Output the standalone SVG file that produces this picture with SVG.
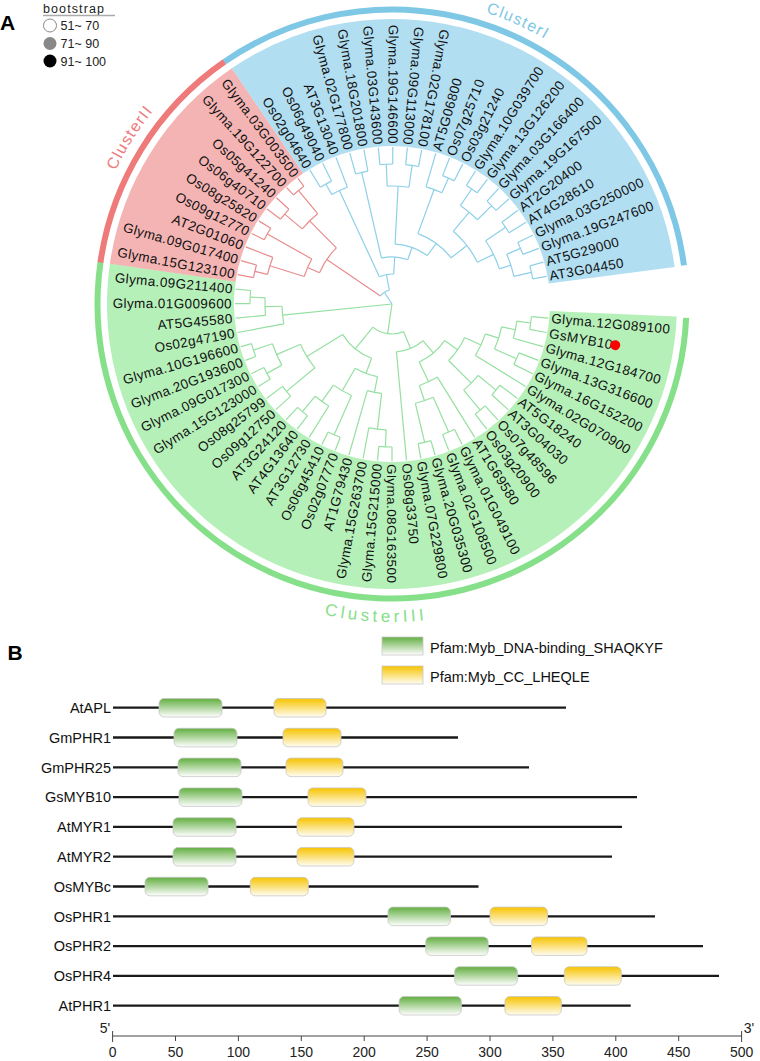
<svg xmlns="http://www.w3.org/2000/svg" width="760" height="1061" viewBox="0 0 760 1061">
<defs>
<linearGradient id="gG" x1="0" y1="0" x2="0" y2="1"><stop offset="0" stop-color="#62ae40"/><stop offset="1" stop-color="#ffffff"/></linearGradient>
<linearGradient id="gY" x1="0" y1="0" x2="0" y2="1"><stop offset="0" stop-color="#f7c300"/><stop offset="1" stop-color="#fffdf2"/></linearGradient>
<path id="pI" d="M 84.35 -294.2 A 306 306 0 0 1 204.8 -227.4"/>
<path id="pII" d="M -288.5 -105 A 307 307 0 0 1 -153.5 -265.9"/>
<path id="pIII" d="M -98.27 302.4 A 318 318 0 0 0 98.27 302.4"/>
</defs>
<style>
text{font-family:"Liberation Sans",Arial,Helvetica,sans-serif}
.lb{font-size:13.5px;letter-spacing:0.4px;fill:#111}
.f{text-anchor:end}
.tr line,.tr circle{fill:none;stroke-width:1.2}
.g line,.g circle{stroke:#95e0a0}
.r line,.r circle{stroke:#e88c8c}
.b line,.b circle{stroke:#8dd0e8}
.cl{font-size:16px;letter-spacing:1.3px}
.pn{font-size:14.5px;fill:#111;text-anchor:end}
.pl{stroke:#1a1a1a;stroke-width:2.3}
.dg{fill:url(#gG);stroke:#c8c8c8;stroke-width:0.8}
.dy{fill:url(#gY);stroke:#c8c8c8;stroke-width:0.8}
.tk{font-size:14px;fill:#222;text-anchor:middle}
.lg{font-size:12.5px;fill:#222}
</style>

<g id="panelA-legend">
<text x="0" y="30" font-size="21" font-weight="bold" fill="#000">A</text>
<text x="43" y="12.5" font-size="12.5" letter-spacing="1.1" fill="#222">bootstrap</text>
<line x1="43" y1="15.5" x2="115" y2="15.5" stroke="#aaa" stroke-width="1.5"/>
<circle cx="50" cy="25.5" r="6.5" fill="#fff" stroke="#888" stroke-width="1"/>
<circle cx="50" cy="43.5" r="6.5" fill="#888"/>
<circle cx="50" cy="61" r="6.5" fill="#000"/>
<text class="lg" x="60.5" y="30.2">51~ 70</text>
<text class="lg" x="60.5" y="48">71~ 90</text>
<text class="lg" x="60.5" y="65.8">91~ 100</text>
</g>

<g id="tree" transform="translate(392 304)">
<g id="fills" fill="none">
<circle r="221.5" stroke="#b6f0b9" stroke-width="127" transform="rotate(2.5)" stroke-dasharray="717.5 3000"/>
<circle r="221.5" stroke="#f4b4b4" stroke-width="127" transform="rotate(188.1)" stroke-dasharray="184.4 3000"/>
<circle r="221.5" stroke="#b2def1" stroke-width="127" transform="rotate(235.8)" stroke-dasharray="451.2 3000"/>
</g>
<g id="cluster-arcs" fill="none" stroke-width="6">
<circle r="294.5" stroke="#7ec8e6" transform="rotate(235.3)" stroke-dasharray="601.9 3000"/>
<circle r="294.5" stroke="#86e08a" transform="rotate(2.7)" stroke-dasharray="953 3000"/>
<circle r="294.5" stroke="#ee7a7a" transform="rotate(188.1)" stroke-dasharray="242.6 3000"/>
</g>
<g id="cluster-labels" class="cl">
<text fill="#7ec8e6" text-anchor="middle"><textPath href="#pI" startOffset="42.7">ClusterI</textPath></text>
<text fill="#ee7a7a" text-anchor="middle"><textPath href="#pII" startOffset="66.4">ClusterII</textPath></text>
<text fill="#86e08a" text-anchor="middle" font-size="17" letter-spacing="3.6"><textPath href="#pIII" startOffset="83.8">ClusterIII</textPath></text>
</g>

<g id="connectors" class="tr">
<g class="g">
<line x1="140" x2="157" transform="rotate(5.15)"/>
<line x1="140" x2="157" transform="rotate(10.45)"/>
<line x1="126" x2="157" transform="rotate(15.76)"/>
<line x1="136" x2="157" transform="rotate(21.06)"/>
<line x1="136" x2="157" transform="rotate(26.36)"/>
<line x1="98" x2="157" transform="rotate(31.67)"/>
<line x1="135" x2="157" transform="rotate(36.97)"/>
<line x1="135" x2="157" transform="rotate(42.27)"/>
<line x1="138" x2="157" transform="rotate(47.58)"/>
<line x1="138" x2="157" transform="rotate(52.88)"/>
<line x1="86" x2="157" transform="rotate(58.18)"/>
<line x1="140" x2="157" transform="rotate(63.48)"/>
<line x1="140" x2="157" transform="rotate(68.79)"/>
<line x1="142" x2="157" transform="rotate(74.09)"/>
<line x1="142" x2="157" transform="rotate(79.39)"/>
<line x1="48" x2="157" transform="rotate(84.7)"/>
<line x1="143" x2="157" transform="rotate(90)"/>
<line x1="143" x2="157" transform="rotate(95.3)"/>
<line x1="126" x2="157" transform="rotate(100.61)"/>
<line x1="90" x2="157" transform="rotate(105.91)"/>
<line x1="143" x2="157" transform="rotate(111.21)"/>
<line x1="143" x2="157" transform="rotate(116.52)"/>
<line x1="120" x2="157" transform="rotate(121.82)"/>
<line x1="140" x2="157" transform="rotate(127.12)"/>
<line x1="140" x2="157" transform="rotate(132.42)"/>
<line x1="137" x2="157" transform="rotate(137.73)"/>
<line x1="137" x2="157" transform="rotate(143.03)"/>
<line x1="143" x2="157" transform="rotate(148.33)"/>
<line x1="143" x2="157" transform="rotate(153.64)"/>
<line x1="146" x2="157" transform="rotate(158.94)"/>
<line x1="146" x2="157" transform="rotate(164.24)"/>
<line x1="110" x2="157" transform="rotate(169.55)"/>
<line x1="127" x2="157" transform="rotate(174.85)"/>
<line x1="142" x2="157" transform="rotate(180.15)"/>
<line x1="142" x2="157" transform="rotate(185.45)"/>
<line x1="126" x2="140" transform="rotate(7.8)"/>
<line x1="112" x2="126" transform="rotate(11.78)"/>
<line x1="112" x2="136" transform="rotate(23.71)"/>
<line x1="98" x2="112" transform="rotate(17.75)"/>
<line x1="80" x2="98" transform="rotate(24.71)"/>
<line x1="112" x2="135" transform="rotate(39.62)"/>
<line x1="112" x2="138" transform="rotate(50.23)"/>
<line x1="80" x2="112" transform="rotate(44.93)"/>
<line x1="64" x2="80" transform="rotate(34.82)"/>
<line x1="102" x2="140" transform="rotate(66.14)"/>
<line x1="102" x2="142" transform="rotate(76.74)"/>
<line x1="86" x2="102" transform="rotate(71.44)"/>
<line x1="64" x2="86" transform="rotate(64.81)"/>
<line x1="48" x2="64" transform="rotate(49.82)"/>
<line x1="30" x2="48" transform="rotate(67.26)"/>
<line x1="126" x2="143" transform="rotate(92.65)"/>
<line x1="90" x2="126" transform="rotate(96.63)"/>
<line x1="74" x2="90" transform="rotate(101.27)"/>
<line x1="100" x2="143" transform="rotate(113.86)"/>
<line x1="120" x2="140" transform="rotate(129.77)"/>
<line x1="100" x2="120" transform="rotate(125.8)"/>
<line x1="74" x2="100" transform="rotate(119.83)"/>
<line x1="58" x2="74" transform="rotate(110.55)"/>
<line x1="100" x2="137" transform="rotate(140.38)"/>
<line x1="126" x2="143" transform="rotate(150.98)"/>
<line x1="126" x2="146" transform="rotate(161.59)"/>
<line x1="100" x2="126" transform="rotate(156.29)"/>
<line x1="58" x2="100" transform="rotate(148.33)"/>
<line x1="30" x2="58" transform="rotate(129.44)"/>
<line x1="0" x2="30" transform="rotate(98.35)"/>
<line x1="127" x2="142" transform="rotate(182.8)"/>
<line x1="110" x2="127" transform="rotate(178.83)"/>
<line x1="0" x2="110" transform="rotate(174.19)"/>
<circle r="140" transform="rotate(5.15)" stroke-dasharray="12.96 3000"/>
<circle r="126" transform="rotate(7.8)" stroke-dasharray="17.5 3000"/>
<circle r="136" transform="rotate(21.06)" stroke-dasharray="12.58 3000"/>
<circle r="112" transform="rotate(11.78)" stroke-dasharray="23.32 3000"/>
<circle r="98" transform="rotate(17.75)" stroke-dasharray="23.81 3000"/>
<circle r="135" transform="rotate(36.97)" stroke-dasharray="12.49 3000"/>
<circle r="138" transform="rotate(47.58)" stroke-dasharray="12.77 3000"/>
<circle r="112" transform="rotate(39.62)" stroke-dasharray="20.74 3000"/>
<circle r="80" transform="rotate(24.71)" stroke-dasharray="28.23 3000"/>
<circle r="140" transform="rotate(63.48)" stroke-dasharray="12.96 3000"/>
<circle r="142" transform="rotate(74.09)" stroke-dasharray="13.14 3000"/>
<circle r="102" transform="rotate(66.14)" stroke-dasharray="18.87 3000"/>
<circle r="86" transform="rotate(58.18)" stroke-dasharray="19.9 3000"/>
<circle r="64" transform="rotate(34.82)" stroke-dasharray="33.5 3000"/>
<circle r="48" transform="rotate(49.82)" stroke-dasharray="29.22 3000"/>
<circle r="143" transform="rotate(90)" stroke-dasharray="13.24 3000"/>
<circle r="126" transform="rotate(92.65)" stroke-dasharray="17.5 3000"/>
<circle r="90" transform="rotate(96.63)" stroke-dasharray="14.58 3000"/>
<circle r="143" transform="rotate(111.21)" stroke-dasharray="13.24 3000"/>
<circle r="140" transform="rotate(127.12)" stroke-dasharray="12.96 3000"/>
<circle r="120" transform="rotate(121.82)" stroke-dasharray="16.65 3000"/>
<circle r="100" transform="rotate(113.86)" stroke-dasharray="20.84 3000"/>
<circle r="74" transform="rotate(101.27)" stroke-dasharray="23.97 3000"/>
<circle r="137" transform="rotate(137.73)" stroke-dasharray="12.68 3000"/>
<circle r="143" transform="rotate(148.33)" stroke-dasharray="13.24 3000"/>
<circle r="146" transform="rotate(158.94)" stroke-dasharray="13.51 3000"/>
<circle r="126" transform="rotate(150.98)" stroke-dasharray="23.33 3000"/>
<circle r="100" transform="rotate(140.38)" stroke-dasharray="27.77 3000"/>
<circle r="58" transform="rotate(110.55)" stroke-dasharray="38.24 3000"/>
<circle r="30" transform="rotate(67.26)" stroke-dasharray="32.56 3000"/>
<circle r="142" transform="rotate(180.15)" stroke-dasharray="13.14 3000"/>
<circle r="127" transform="rotate(174.85)" stroke-dasharray="17.62 3000"/>
<circle r="110" transform="rotate(169.55)" stroke-dasharray="17.82 3000"/>
</g>
<g class="r">
<line x1="141" x2="157" transform="rotate(190.76)"/>
<line x1="141" x2="157" transform="rotate(196.06)"/>
<line x1="128" x2="157" transform="rotate(201.36)"/>
<line x1="143" x2="157" transform="rotate(206.67)"/>
<line x1="143" x2="157" transform="rotate(211.97)"/>
<line x1="140" x2="157" transform="rotate(217.27)"/>
<line x1="140" x2="157" transform="rotate(222.58)"/>
<line x1="147" x2="157" transform="rotate(227.88)"/>
<line x1="147" x2="157" transform="rotate(233.18)"/>
<line x1="128" x2="141" transform="rotate(193.41)"/>
<line x1="92" x2="128" transform="rotate(197.39)"/>
<line x1="92" x2="143" transform="rotate(209.32)"/>
<line x1="79" x2="92" transform="rotate(203.36)"/>
<line x1="117" x2="140" transform="rotate(219.93)"/>
<line x1="117" x2="147" transform="rotate(230.53)"/>
<line x1="79" x2="117" transform="rotate(225.23)"/>
<line x1="14" x2="79" transform="rotate(214.3)"/>
<circle r="141" transform="rotate(190.76)" stroke-dasharray="13.05 3000"/>
<circle r="128" transform="rotate(193.41)" stroke-dasharray="17.76 3000"/>
<circle r="143" transform="rotate(206.67)" stroke-dasharray="13.24 3000"/>
<circle r="92" transform="rotate(197.39)" stroke-dasharray="19.16 3000"/>
<circle r="140" transform="rotate(217.27)" stroke-dasharray="12.96 3000"/>
<circle r="147" transform="rotate(227.88)" stroke-dasharray="13.61 3000"/>
<circle r="117" transform="rotate(219.93)" stroke-dasharray="21.65 3000"/>
<circle r="79" transform="rotate(203.36)" stroke-dasharray="30.15 3000"/>
</g>
<g class="b">
<line x1="137" x2="157" transform="rotate(238.48)"/>
<line x1="137" x2="157" transform="rotate(243.79)"/>
<line x1="125" x2="157" transform="rotate(249.09)"/>
<line x1="135" x2="157" transform="rotate(254.39)"/>
<line x1="135" x2="157" transform="rotate(259.7)"/>
<line x1="140" x2="157" transform="rotate(265)"/>
<line x1="140" x2="157" transform="rotate(270.3)"/>
<line x1="140" x2="157" transform="rotate(275.61)"/>
<line x1="140" x2="157" transform="rotate(280.91)"/>
<line x1="122" x2="157" transform="rotate(286.21)"/>
<line x1="138" x2="157" transform="rotate(291.52)"/>
<line x1="138" x2="157" transform="rotate(296.82)"/>
<line x1="140" x2="157" transform="rotate(302.12)"/>
<line x1="140" x2="157" transform="rotate(307.42)"/>
<line x1="140" x2="157" transform="rotate(312.73)"/>
<line x1="140" x2="157" transform="rotate(318.03)"/>
<line x1="137" x2="157" transform="rotate(323.33)"/>
<line x1="137" x2="157" transform="rotate(328.64)"/>
<line x1="140" x2="157" transform="rotate(333.94)"/>
<line x1="140" x2="157" transform="rotate(339.24)"/>
<line x1="143" x2="157" transform="rotate(344.55)"/>
<line x1="143" x2="157" transform="rotate(349.85)"/>
<line x1="125" x2="137" transform="rotate(241.14)"/>
<line x1="30" x2="125" transform="rotate(245.12)"/>
<line x1="47" x2="135" transform="rotate(257.05)"/>
<line x1="118" x2="140" transform="rotate(267.65)"/>
<line x1="118" x2="140" transform="rotate(278.26)"/>
<line x1="60" x2="118" transform="rotate(272.96)"/>
<line x1="122" x2="138" transform="rotate(294.17)"/>
<line x1="75" x2="122" transform="rotate(290.19)"/>
<line x1="120" x2="140" transform="rotate(304.77)"/>
<line x1="120" x2="140" transform="rotate(315.38)"/>
<line x1="95" x2="120" transform="rotate(310.08)"/>
<line x1="113" x2="137" transform="rotate(325.98)"/>
<line x1="125" x2="140" transform="rotate(336.59)"/>
<line x1="125" x2="143" transform="rotate(347.2)"/>
<line x1="113" x2="125" transform="rotate(341.9)"/>
<line x1="95" x2="113" transform="rotate(333.94)"/>
<line x1="75" x2="95" transform="rotate(322.01)"/>
<line x1="60" x2="75" transform="rotate(306.1)"/>
<line x1="47" x2="60" transform="rotate(289.53)"/>
<line x1="30" x2="47" transform="rotate(273.29)"/>
<line x1="14" x2="30" transform="rotate(259.2)"/>
<line x1="0" x2="14" transform="rotate(236.75)"/>
<circle r="137" transform="rotate(238.48)" stroke-dasharray="12.68 3000"/>
<circle r="125" transform="rotate(241.14)" stroke-dasharray="17.34 3000"/>
<circle r="135" transform="rotate(254.39)" stroke-dasharray="12.49 3000"/>
<circle r="140" transform="rotate(265)" stroke-dasharray="12.96 3000"/>
<circle r="140" transform="rotate(275.61)" stroke-dasharray="12.96 3000"/>
<circle r="118" transform="rotate(267.65)" stroke-dasharray="21.85 3000"/>
<circle r="138" transform="rotate(291.52)" stroke-dasharray="12.77 3000"/>
<circle r="122" transform="rotate(286.21)" stroke-dasharray="16.95 3000"/>
<circle r="140" transform="rotate(302.12)" stroke-dasharray="12.96 3000"/>
<circle r="140" transform="rotate(312.73)" stroke-dasharray="12.96 3000"/>
<circle r="120" transform="rotate(304.77)" stroke-dasharray="22.22 3000"/>
<circle r="137" transform="rotate(323.33)" stroke-dasharray="12.68 3000"/>
<circle r="140" transform="rotate(333.94)" stroke-dasharray="12.96 3000"/>
<circle r="143" transform="rotate(344.55)" stroke-dasharray="13.24 3000"/>
<circle r="125" transform="rotate(336.59)" stroke-dasharray="23.15 3000"/>
<circle r="113" transform="rotate(325.98)" stroke-dasharray="31.4 3000"/>
<circle r="95" transform="rotate(310.08)" stroke-dasharray="39.56 3000"/>
<circle r="75" transform="rotate(290.19)" stroke-dasharray="41.65 3000"/>
<circle r="60" transform="rotate(272.96)" stroke-dasharray="34.7 3000"/>
<circle r="47" transform="rotate(257.05)" stroke-dasharray="26.64 3000"/>
<circle r="30" transform="rotate(245.12)" stroke-dasharray="14.75 3000"/>
<circle r="14" transform="rotate(214.3)" stroke-dasharray="10.97 3000"/>
</g>
</g>

<g id="leaf-labels" class="lb">
<text dy="0.35em" transform="rotate(5.15) translate(160 0)">Glyma.12G089100</text>
<text dy="0.35em" transform="rotate(10.45) translate(160 0)">GsMYB10</text>
<text dy="0.35em" transform="rotate(15.76) translate(160 0)">Glyma.12G184700</text>
<text dy="0.35em" transform="rotate(21.06) translate(160 0)">Glyma.13G316600</text>
<text dy="0.35em" transform="rotate(26.36) translate(160 0)">Glyma.16G152200</text>
<text dy="0.35em" transform="rotate(31.67) translate(160 0)">Glyma.02G070900</text>
<text dy="0.35em" transform="rotate(36.97) translate(160 0)">AT5G18240</text>
<text dy="0.35em" transform="rotate(42.27) translate(160 0)">AT3G04030</text>
<text dy="0.35em" transform="rotate(47.58) translate(160 0)">Os07g48596</text>
<text dy="0.35em" transform="rotate(52.88) translate(160 0)">Os03g20900</text>
<text dy="0.35em" transform="rotate(58.18) translate(160 0)">AT1G69580</text>
<text dy="0.35em" transform="rotate(63.48) translate(160 0)">Glyma.01G049100</text>
<text dy="0.35em" transform="rotate(68.79) translate(160 0)">Glyma.02G108500</text>
<text dy="0.35em" transform="rotate(74.09) translate(160 0)">Glyma.20G035300</text>
<text dy="0.35em" transform="rotate(79.39) translate(160 0)">Glyma.07G229800</text>
<text dy="0.35em" transform="rotate(84.7) translate(160 0)">Os08g33750</text>
<text dy="0.35em" transform="rotate(90) translate(160 0)">Glyma.08G163500</text>
<text class="f" dy="0.35em" transform="rotate(275.3) translate(-160 0)">Glyma.15G215000</text>
<text class="f" dy="0.35em" transform="rotate(280.61) translate(-160 0)">Glyma.15G263700</text>
<text class="f" dy="0.35em" transform="rotate(285.91) translate(-160 0)">AT1G79430</text>
<text class="f" dy="0.35em" transform="rotate(291.21) translate(-160 0)">Os02g07770</text>
<text class="f" dy="0.35em" transform="rotate(296.52) translate(-160 0)">Os06g45410</text>
<text class="f" dy="0.35em" transform="rotate(301.82) translate(-160 0)">AT3G12730</text>
<text class="f" dy="0.35em" transform="rotate(307.12) translate(-160 0)">AT4G13640</text>
<text class="f" dy="0.35em" transform="rotate(312.42) translate(-160 0)">AT3G24120</text>
<text class="f" dy="0.35em" transform="rotate(317.73) translate(-160 0)">Os09g12750</text>
<text class="f" dy="0.35em" transform="rotate(323.03) translate(-160 0)">Os08g25799</text>
<text class="f" dy="0.35em" transform="rotate(328.33) translate(-160 0)">Glyma.15G123000</text>
<text class="f" dy="0.35em" transform="rotate(333.64) translate(-160 0)">Glyma.09G017300</text>
<text class="f" dy="0.35em" transform="rotate(338.94) translate(-160 0)">Glyma.20G193600</text>
<text class="f" dy="0.35em" transform="rotate(344.24) translate(-160 0)">Glyma.10G196600</text>
<text class="f" dy="0.35em" transform="rotate(349.55) translate(-160 0)">Os02g47190</text>
<text class="f" dy="0.35em" transform="rotate(354.85) translate(-160 0)">AT5G45580</text>
<text class="f" dy="0.35em" transform="rotate(0.15) translate(-160 0)">Glyma.01G009600</text>
<text class="f" dy="0.35em" transform="rotate(5.45) translate(-160 0)">Glyma.09G211400</text>
<text class="f" dy="0.35em" transform="rotate(10.76) translate(-160 0)">Glyma.15G123100</text>
<text class="f" dy="0.35em" transform="rotate(16.06) translate(-160 0)">Glyma.09G017400</text>
<text class="f" dy="0.35em" transform="rotate(21.36) translate(-160 0)">AT2G01060</text>
<text class="f" dy="0.35em" transform="rotate(26.67) translate(-160 0)">Os09g12770</text>
<text class="f" dy="0.35em" transform="rotate(31.97) translate(-160 0)">Os08g25820</text>
<text class="f" dy="0.35em" transform="rotate(37.27) translate(-160 0)">Os06g40710</text>
<text class="f" dy="0.35em" transform="rotate(42.58) translate(-160 0)">Os05g41240</text>
<text class="f" dy="0.35em" transform="rotate(47.88) translate(-160 0)">Glyma.19G122700</text>
<text class="f" dy="0.35em" transform="rotate(53.18) translate(-160 0)">Glyma.03G003500</text>
<text class="f" dy="0.35em" transform="rotate(58.48) translate(-160 0)">Os02g04640</text>
<text class="f" dy="0.35em" transform="rotate(63.79) translate(-160 0)">Os06g49040</text>
<text class="f" dy="0.35em" transform="rotate(69.09) translate(-160 0)">AT3G13040</text>
<text class="f" dy="0.35em" transform="rotate(74.39) translate(-160 0)">Glyma.02G177800</text>
<text class="f" dy="0.35em" transform="rotate(79.7) translate(-160 0)">Glyma.18G201800</text>
<text class="f" dy="0.35em" transform="rotate(85) translate(-160 0)">Glyma.03G143600</text>
<text class="f" dy="0.35em" transform="rotate(90.3) translate(-160 0)">Glyma.19G146600</text>
<text class="f" dy="0.35em" transform="rotate(95.61) translate(-160 0)">Glyma.09G113000</text>
<text class="f" dy="0.35em" transform="rotate(100.91) translate(-160 0)">Glyma.02G178100</text>
<text dy="0.35em" transform="rotate(286.21) translate(160 0)">AT5G06800</text>
<text dy="0.35em" transform="rotate(291.52) translate(160 0)">Os07g25710</text>
<text dy="0.35em" transform="rotate(296.82) translate(160 0)">Os03g21240</text>
<text dy="0.35em" transform="rotate(302.12) translate(160 0)">Glyma.10G039700</text>
<text dy="0.35em" transform="rotate(307.42) translate(160 0)">Glyma.13G126200</text>
<text dy="0.35em" transform="rotate(312.73) translate(160 0)">Glyma.03G166400</text>
<text dy="0.35em" transform="rotate(318.03) translate(160 0)">Glyma.19G167500</text>
<text dy="0.35em" transform="rotate(323.33) translate(160 0)">AT2G20400</text>
<text dy="0.35em" transform="rotate(328.64) translate(160 0)">AT4G28610</text>
<text dy="0.35em" transform="rotate(333.94) translate(160 0)">Glyma.03G250000</text>
<text dy="0.35em" transform="rotate(339.24) translate(160 0)">Glyma.19G247600</text>
<text dy="0.35em" transform="rotate(344.55) translate(160 0)">AT5G29000</text>
<text dy="0.35em" transform="rotate(349.85) translate(160 0)">AT3G04450</text>
</g>
<circle id="gsmyb10-dot" r="5" cx="227" cy="0" fill="#ff0000" transform="rotate(10.45)"/>
</g>

<g id="panelB">
<text x="7.5" y="660" font-size="21" font-weight="bold" fill="#000">B</text>
<g id="legendB">
<rect class="dg" x="382" y="637" width="41" height="18"/>
<text x="430" y="653" font-size="14.5" fill="#111">Pfam:Myb_DNA-binding_SHAQKYF</text>
<rect class="dy" x="382" y="666" width="41" height="18"/>
<text x="430" y="682" font-size="14.5" fill="#111">Pfam:Myb_CC_LHEQLE</text>
</g>
<g id="row-AtAPL"><text class="pn" x="111" y="713">AtAPL</text><line class="pl" x1="113" y1="707.7" x2="566" y2="707.7"/><rect class="dg" x="159" y="698.5" width="63" height="18.5" rx="5"/><rect class="dy" x="274" y="698.5" width="52" height="18.5" rx="5"/></g>
<g id="row-GmPHR1"><text class="pn" x="111" y="742.8">GmPHR1</text><line class="pl" x1="113" y1="737.5" x2="458" y2="737.5"/><rect class="dg" x="174" y="728.3" width="63" height="18.5" rx="5"/><rect class="dy" x="283" y="728.3" width="58" height="18.5" rx="5"/></g>
<g id="row-GmPHR25"><text class="pn" x="111" y="772.6">GmPHR25</text><line class="pl" x1="113" y1="767.3" x2="529" y2="767.3"/><rect class="dg" x="178" y="758.1" width="63" height="18.5" rx="5"/><rect class="dy" x="286" y="758.1" width="57" height="18.5" rx="5"/></g>
<g id="row-GsMYB10"><text class="pn" x="111" y="802.4">GsMYB10</text><line class="pl" x1="113" y1="797.1" x2="637" y2="797.1"/><rect class="dg" x="179" y="787.9" width="63" height="18.5" rx="5"/><rect class="dy" x="308" y="787.9" width="58" height="18.5" rx="5"/></g>
<g id="row-AtMYR1"><text class="pn" x="111" y="832.2">AtMYR1</text><line class="pl" x1="113" y1="826.9" x2="622" y2="826.9"/><rect class="dg" x="173" y="817.7" width="63" height="18.5" rx="5"/><rect class="dy" x="297" y="817.7" width="57" height="18.5" rx="5"/></g>
<g id="row-AtMYR2"><text class="pn" x="111" y="862">AtMYR2</text><line class="pl" x1="113" y1="856.7" x2="612" y2="856.7"/><rect class="dg" x="173" y="847.5" width="63" height="18.5" rx="5"/><rect class="dy" x="297" y="847.5" width="57" height="18.5" rx="5"/></g>
<g id="row-OsMYBc"><text class="pn" x="111" y="891.8">OsMYBc</text><line class="pl" x1="113" y1="886.5" x2="478.5" y2="886.5"/><rect class="dg" x="145" y="877.3" width="63" height="18.5" rx="5"/><rect class="dy" x="250.3" y="877.3" width="58" height="18.5" rx="5"/></g>
<g id="row-OsPHR1"><text class="pn" x="111" y="921.6">OsPHR1</text><line class="pl" x1="113" y1="916.3" x2="655" y2="916.3"/><rect class="dg" x="388" y="907.1" width="62.5" height="18.5" rx="5"/><rect class="dy" x="490" y="907.1" width="57.5" height="18.5" rx="5"/></g>
<g id="row-OsPHR2"><text class="pn" x="111" y="951.4">OsPHR2</text><line class="pl" x1="113" y1="946.1" x2="703" y2="946.1"/><rect class="dg" x="425.7" y="936.9" width="62.5" height="18.5" rx="5"/><rect class="dy" x="531.5" y="936.9" width="55.5" height="18.5" rx="5"/></g>
<g id="row-OsPHR4"><text class="pn" x="111" y="981.2">OsPHR4</text><line class="pl" x1="113" y1="975.9" x2="719" y2="975.9"/><rect class="dg" x="454.6" y="966.7" width="62.8" height="18.5" rx="5"/><rect class="dy" x="564.3" y="966.7" width="57" height="18.5" rx="5"/></g>
<g id="row-AtPHR1"><text class="pn" x="111" y="1011">AtPHR1</text><line class="pl" x1="113" y1="1005.7" x2="630.7" y2="1005.7"/><rect class="dg" x="399.1" y="996.5" width="62.3" height="18.5" rx="5"/><rect class="dy" x="504.9" y="996.5" width="56.5" height="18.5" rx="5"/></g>
<g id="axis" stroke="#444" stroke-width="1">
<line x1="112.6" y1="1036" x2="741.6" y2="1036"/>
<line x1="112.6" y1="1031" x2="112.6" y2="1042"/>
<line x1="175.5" y1="1036" x2="175.5" y2="1041"/>
<line x1="238.4" y1="1036" x2="238.4" y2="1041"/>
<line x1="301.3" y1="1036" x2="301.3" y2="1041"/>
<line x1="364.2" y1="1036" x2="364.2" y2="1041"/>
<line x1="427.1" y1="1036" x2="427.1" y2="1041"/>
<line x1="490" y1="1036" x2="490" y2="1041"/>
<line x1="552.9" y1="1036" x2="552.9" y2="1041"/>
<line x1="615.8" y1="1036" x2="615.8" y2="1041"/>
<line x1="678.7" y1="1036" x2="678.7" y2="1041"/>
<line x1="741.6" y1="1031" x2="741.6" y2="1042"/>
</g>
<g id="axis-labels">
<text x="105" y="1033" font-size="14" fill="#222" text-anchor="middle">5'</text>
<text x="749" y="1033" font-size="14" fill="#222" text-anchor="middle">3'</text>
<text class="tk" x="112.6" y="1057">0</text>
<text class="tk" x="175.5" y="1057">50</text>
<text class="tk" x="238.4" y="1057">100</text>
<text class="tk" x="301.3" y="1057">150</text>
<text class="tk" x="364.2" y="1057">200</text>
<text class="tk" x="427.1" y="1057">250</text>
<text class="tk" x="490" y="1057">300</text>
<text class="tk" x="552.9" y="1057">350</text>
<text class="tk" x="615.8" y="1057">400</text>
<text class="tk" x="678.7" y="1057">450</text>
<text class="tk" x="741.6" y="1057">500</text>
</g>
</g>
</svg>
